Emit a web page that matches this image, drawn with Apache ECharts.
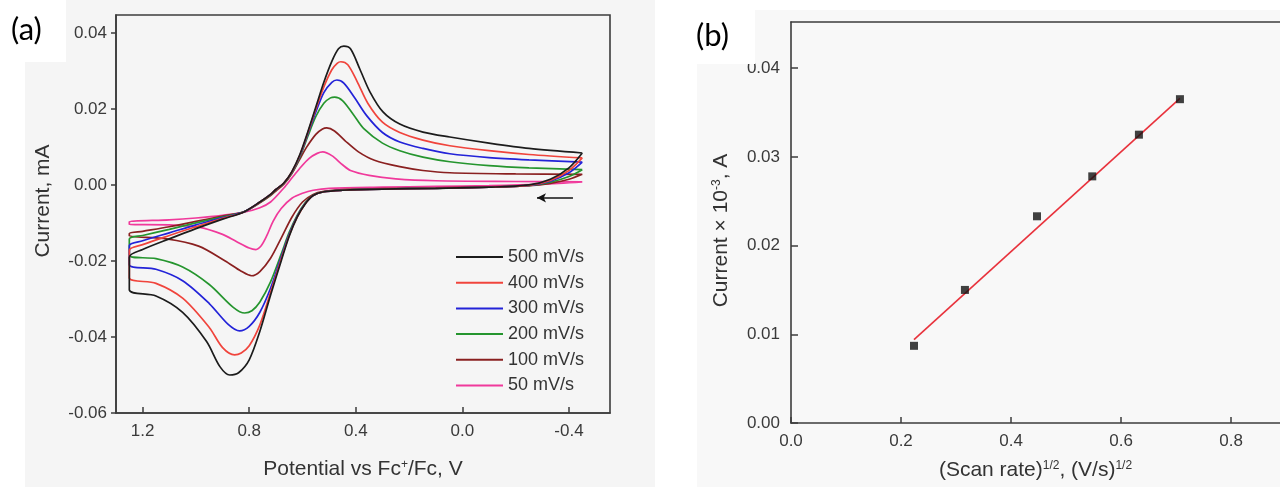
<!DOCTYPE html>
<html>
<head>
<meta charset="utf-8">
<script src="https://cdn.jsdelivr.net/npm/echarts@6/dist/echarts.min.js"></script>
<style>
html,body{margin:0;padding:0;background:#ffffff;}
#chart{width:1280px;height:487px;}
</style>
</head>
<body>
<div id="chart"></div>
<script>
// ---------- Panel (a): cyclic voltammograms, [potential V, current mA] ----------
const legendNames = ['500 mV/s','400 mV/s','300 mV/s','200 mV/s','100 mV/s','50 mV/s'];

const cv500 = [[-0.45,0.0084],[-0.40,0.0045],[-0.33,0.0015],[-0.25,0.0000],[-0.1,-0.0006],[0.1,-0.0009],[0.3,-0.0011],[0.45,-0.0014],[0.52,-0.0018],[0.56,-0.0028],[0.59,-0.0050],[0.62,-0.0085],[0.65,-0.0135],[0.68,-0.0200],[0.72,-0.0290],[0.76,-0.0385],[0.80,-0.0460],[0.84,-0.0494],[0.873,-0.0500],[0.91,-0.0478],[0.96,-0.0412],[1.05,-0.0335],[1.15,-0.0292],[1.25,-0.0276],
  [1.25,-0.0190],[1.2,-0.0170],[1.1,-0.0142],[1.0,-0.0115],[0.9,-0.0090],[0.82,-0.0071],[0.76,-0.0045],[0.72,-0.0025],[0.70,-0.0012],[0.67,0.0005],[0.64,0.0035],[0.61,0.0080],[0.58,0.0140],[0.55,0.0205],[0.52,0.0270],[0.49,0.0325],[0.465,0.0358],[0.445,0.0365],[0.42,0.0358],[0.385,0.0305],[0.347,0.0245],[0.298,0.0192],[0.235,0.0160],[0.148,0.0139],[0.047,0.0126],[-0.1,0.0110],[-0.25,0.0096],[-0.45,0.0084]];

const cv400 = [[-0.45,0.0071],[-0.40,0.0038],[-0.33,0.0012],[-0.25,-0.0001],[-0.1,-0.0006],[0.1,-0.0009],[0.3,-0.0011],[0.45,-0.0014],[0.52,-0.0018],[0.56,-0.0028],[0.59,-0.0050],[0.62,-0.0085],[0.65,-0.0133],[0.68,-0.0195],[0.72,-0.0283],[0.76,-0.0368],[0.80,-0.0423],[0.83,-0.0442],[0.855,-0.0447],[0.9,-0.0428],[0.95,-0.0375],[1.05,-0.0298],[1.15,-0.0259],[1.25,-0.0244],
  [1.25,-0.0172],[1.2,-0.0157],[1.1,-0.0133],[1.0,-0.0110],[0.9,-0.0088],[0.82,-0.0071],[0.76,-0.0045],[0.72,-0.0025],[0.70,-0.0012],[0.67,0.0005],[0.64,0.0034],[0.61,0.0078],[0.58,0.0137],[0.55,0.0200],[0.52,0.0258],[0.49,0.0303],[0.47,0.0320],[0.456,0.0324],[0.43,0.0316],[0.395,0.0272],[0.355,0.0215],[0.30,0.0165],[0.235,0.0138],[0.148,0.0118],[0.047,0.0103],[-0.1,0.0090],[-0.25,0.0080],[-0.45,0.0071]];

const cv300 = [[-0.45,0.0060],[-0.40,0.0032],[-0.33,0.0010],[-0.25,-0.0001],[-0.1,-0.0006],[0.1,-0.0009],[0.3,-0.0011],[0.45,-0.0014],[0.52,-0.0018],[0.56,-0.0028],[0.59,-0.0049],[0.62,-0.0083],[0.65,-0.0130],[0.68,-0.0190],[0.72,-0.0272],[0.76,-0.0335],[0.80,-0.0372],[0.836,-0.0384],[0.88,-0.0366],[0.95,-0.0312],[1.05,-0.0252],[1.15,-0.0222],[1.25,-0.0210],
  [1.25,-0.0160],[1.2,-0.0147],[1.1,-0.0126],[1.0,-0.0105],[0.9,-0.0086],[0.82,-0.0071],[0.76,-0.0045],[0.72,-0.0025],[0.70,-0.0012],[0.67,0.0005],[0.64,0.0033],[0.61,0.0076],[0.58,0.0134],[0.55,0.0192],[0.52,0.0243],[0.49,0.0270],[0.471,0.0276],[0.445,0.0268],[0.405,0.0230],[0.36,0.0183],[0.30,0.0138],[0.235,0.0113],[0.148,0.0096],[0.047,0.0082],[-0.1,0.0072],[-0.25,0.0066],[-0.45,0.0060]];

const cv200 = [[-0.45,0.0040],[-0.40,0.0022],[-0.33,0.0007],[-0.25,-0.0002],[-0.1,-0.0006],[0.1,-0.0009],[0.3,-0.0011],[0.45,-0.0014],[0.52,-0.0018],[0.56,-0.0027],[0.59,-0.0047],[0.62,-0.0080],[0.65,-0.0125],[0.68,-0.0182],[0.72,-0.0255],[0.76,-0.0308],[0.79,-0.0331],[0.817,-0.0337],[0.86,-0.0322],[0.95,-0.0262],[1.05,-0.0216],[1.15,-0.0194],[1.25,-0.0186],
  [1.25,-0.0142],[1.2,-0.0133],[1.1,-0.0117],[1.0,-0.0100],[0.9,-0.0084],[0.82,-0.0071],[0.76,-0.0046],[0.72,-0.0026],[0.70,-0.0013],[0.67,0.0004],[0.64,0.0031],[0.61,0.0073],[0.58,0.0128],[0.55,0.0180],[0.52,0.0215],[0.495,0.0229],[0.479,0.0231],[0.45,0.0222],[0.41,0.0186],[0.37,0.0148],[0.30,0.0110],[0.235,0.0090],[0.148,0.0073],[0.047,0.0061],[-0.1,0.0051],[-0.25,0.0045],[-0.45,0.0040]];

const cv100 = [[-0.45,0.0028],[-0.40,0.0015],[-0.33,0.0004],[-0.25,-0.0002],[-0.1,-0.0005],[0.1,-0.0008],[0.3,-0.0010],[0.45,-0.0012],[0.52,-0.0017],[0.56,-0.0025],[0.60,-0.0045],[0.64,-0.0085],[0.68,-0.0140],[0.72,-0.0193],[0.76,-0.0228],[0.791,-0.0239],[0.83,-0.0227],[0.89,-0.0200],[0.99,-0.0161],[1.11,-0.0142],[1.25,-0.0134],
  [1.25,-0.0128],[1.2,-0.0122],[1.1,-0.0110],[1.0,-0.0096],[0.9,-0.0082],[0.82,-0.0071],[0.76,-0.0047],[0.72,-0.0028],[0.70,-0.0016],[0.67,0.0002],[0.64,0.0030],[0.61,0.0068],[0.584,0.0100],[0.55,0.0133],[0.525,0.0147],[0.509,0.0150],[0.48,0.0142],[0.44,0.0116],[0.39,0.0087],[0.33,0.0065],[0.235,0.0048],[0.148,0.0038],[0.047,0.0032],[-0.2,0.0029],[-0.45,0.0028]];

const cv50 = [[-0.45,0.0008],[-0.3,0.0002],[-0.1,-0.0002],[0.1,-0.0004],[0.3,-0.0006],[0.5,-0.0009],[0.56,-0.0014],[0.6,-0.0022],[0.64,-0.0035],[0.68,-0.0062],[0.71,-0.0095],[0.735,-0.0135],[0.755,-0.0160],[0.775,-0.0170],[0.80,-0.0166],[0.85,-0.0148],[0.9,-0.0130],[0.99,-0.0111],[1.1,-0.0105],[1.25,-0.0104],
  [1.25,-0.0097],[1.1,-0.0092],[1.0,-0.0087],[0.9,-0.0080],[0.82,-0.0072],[0.76,-0.0060],[0.72,-0.0045],[0.67,-0.0008],[0.64,0.0018],[0.61,0.0044],[0.575,0.0070],[0.545,0.0083],[0.524,0.0087],[0.49,0.0077],[0.45,0.0053],[0.42,0.0038],[0.35,0.0025],[0.25,0.0016],[0.1,0.0011],[-0.2,0.0009],[-0.45,0.0008]];

const cvCurves = [cv500, cv400, cv300, cv200, cv100, cv50];
const potentialTicks = [1.2, 0.8, 0.4, 0.0, -0.4];
const currentTicksA = [-0.06, -0.04, -0.02, 0.00, 0.02, 0.04];

// ---------- Panel (b): peak current vs sqrt(scan rate) ----------
const sqrtScanRate = [0.2236, 0.3162, 0.4472, 0.5477, 0.6325, 0.7071];
const peakCurrent  = [0.0087, 0.0150, 0.0233, 0.0278, 0.0325, 0.0365];
const fitX = [0.2236, 0.7071];
const fitY = [0.0094, 0.0366];
const rateTicks = [0.0, 0.2, 0.4, 0.6, 0.8];
const currentTicksB = [0.00, 0.01, 0.02, 0.03, 0.04];

// ---------- styling ----------
const cvColors = ['#1c1c1c', '#f0443c', '#2323d8', '#25952e', '#8a2020', '#f0399b'];
const FONT = 'Liberation Sans, Arial, sans-serif';
const tickColor = '#3a3a3a';
const axisColor = '#3c3c3c';

const chart = echarts.init(document.getElementById('chart'), null, {renderer: 'canvas'});

const series = cvCurves.map((c, i) => ({
  name: legendNames[i],
  type: 'line',
  xAxisIndex: 0, yAxisIndex: 0,
  data: c,
  symbol: 'none',
  smooth: 0.3,
  lineStyle: {color: cvColors[i], width: 1.7},
  itemStyle: {color: cvColors[i]},
  z: 10 - i,
  silent: true
}));

// scan-direction arrow
series[0].markLine = {
  silent: true,
  symbol: ['none', 'arrow'],
  symbolSize: [7, 9],
  label: {show: false},
  lineStyle: {color: '#111', width: 1.5, type: 'solid'},
  data: [[{coord: [-0.415, -0.0034]}, {coord: [-0.28, -0.0034]}]]
};

series.push({
  type: 'line',
  xAxisIndex: 1, yAxisIndex: 1,
  data: fitX.map((x, i) => [x, fitY[i]]),
  symbol: 'none',
  lineStyle: {color: '#e8323c', width: 1.6},
  silent: true, z: 5
});
series.push({
  type: 'scatter',
  xAxisIndex: 1, yAxisIndex: 1,
  data: sqrtScanRate.map((x, i) => [x, peakCurrent[i]]),
  symbol: 'rect',
  symbolSize: 8,
  itemStyle: {color: '#111'},
  silent: true, z: 6
});

const labelStyle = {color: tickColor, fontFamily: FONT, fontSize: 17};
const supStyle = {fontSize: 12, fontFamily: FONT, color: '#333', verticalAlign: 'top', lineHeight: 10};

const option = {
  backgroundColor: '#ffffff',
  animation: false,
  graphic: [
    {type: 'rect', shape: {x: 25, y: 0, width: 630, height: 487}, style: {fill: '#f5f5f5'}, z: -10, silent: true},
    {type: 'rect', shape: {x: 697, y: 10, width: 583, height: 477}, style: {fill: '#f8f8f8'}, z: -10, silent: true},
    {type: 'rect', shape: {x: 0, y: 0, width: 66, height: 62}, style: {fill: '#ffffff'}, z: 100, silent: true},
    {type: 'rect', shape: {x: 680, y: 0, width: 75, height: 64}, style: {fill: '#ffffff'}, z: 100, silent: true},
    {type: 'text', left: 11, top: 14, z: 101, silent: true,
      style: {text: '(a)', fill: '#000', font: '31px Lato, "Noto Sans", sans-serif'}},
    {type: 'text', left: 696, top: 20, z: 101, silent: true,
      style: {text: '(b)', fill: '#000', font: '31px Lato, "Noto Sans", sans-serif'}}
  ],
  legend: {
    data: legendNames,
    orient: 'vertical',
    left: 451, top: 243,
    itemWidth: 47, itemHeight: 18, itemGap: 7.7,
    icon: 'path://M0,8 L47,8 L47,10 L0,10 Z',
    textStyle: {color: '#333', fontFamily: FONT, fontSize: 18, lineHeight: 18},
    selectedMode: false
  },
  grid: [
    {left: 116, top: 15, width: 494, height: 398, show: true, borderColor: axisColor, borderWidth: 1.6, backgroundColor: 'transparent'},
    {left: 791, top: 22, width: 489, height: 401, show: false}
  ],
  xAxis: [
    {
      type: 'value', gridIndex: 0, inverse: true,
      min: -0.554, max: 1.30,
      name: 'Potential vs Fc{sup|+}/Fc, V',
      nameLocation: 'middle', nameGap: 46,
      nameTextStyle: {color: '#333', fontFamily: FONT, fontSize: 21, rich: {sup: supStyle}},
      axisLine: {show: true, onZero: false, lineStyle: {color: axisColor, width: 1.6}},
      axisTick: {show: true, inside: true, length: 6, customValues: potentialTicks, lineStyle: {color: axisColor, width: 1.5}},
      axisLabel: Object.assign({margin: 10, customValues: potentialTicks, formatter: v => v.toFixed(1)}, labelStyle),
      splitLine: {show: false}
    },
    {
      type: 'value', gridIndex: 1,
      min: 0, max: 0.889,
      name: '(Scan rate){sup|1/2}, (V/s){sup|1/2}',
      nameLocation: 'middle', nameGap: 37,
      nameTextStyle: {color: '#333', fontFamily: FONT, fontSize: 21, rich: {sup: supStyle}},
      axisLine: {show: true, onZero: false, lineStyle: {color: axisColor, width: 1.6}},
      axisTick: {show: true, inside: true, length: 6, customValues: rateTicks, lineStyle: {color: axisColor, width: 1.5}},
      axisLabel: Object.assign({margin: 10, customValues: rateTicks, formatter: v => v.toFixed(1)}, labelStyle),
      splitLine: {show: false}
    },
    {
      // top frame line of panel (b)
      type: 'value', gridIndex: 1, position: 'top',
      min: 0, max: 0.889,
      axisLine: {show: true, onZero: false, lineStyle: {color: axisColor, width: 1.6}},
      axisTick: {show: false}, axisLabel: {show: false}, splitLine: {show: false}
    }
  ],
  yAxis: [
    {
      type: 'value', gridIndex: 0,
      min: -0.06, max: 0.0447,
      name: 'Current, mA',
      nameLocation: 'middle', nameGap: 62,
      nameTextStyle: {color: '#333', fontFamily: FONT, fontSize: 21, padding: [0, 0, 0, 26]},
      axisLine: {show: true, onZero: false, lineStyle: {color: axisColor, width: 1.6}},
      axisTick: {show: true, inside: false, length: 5, customValues: currentTicksA, lineStyle: {color: axisColor, width: 1.5}},
      axisLabel: Object.assign({margin: 9, customValues: currentTicksA, formatter: v => v.toFixed(2)}, labelStyle),
      splitLine: {show: false}
    },
    {
      type: 'value', gridIndex: 1,
      min: 0, max: 0.0452,
      name: 'Current × 10{sup|-3}, A',
      nameLocation: 'middle', nameGap: 59,
      nameTextStyle: {color: '#333', fontFamily: FONT, fontSize: 21, padding: [0, 16, 0, 0], rich: {sup: supStyle}},
      axisLine: {show: true, onZero: false, lineStyle: {color: axisColor, width: 1.6}},
      axisTick: {show: true, inside: true, length: 7, customValues: currentTicksB, lineStyle: {color: axisColor, width: 1.5}},
      axisLabel: Object.assign({margin: 11, customValues: currentTicksB, formatter: v => v.toFixed(2)}, labelStyle),
      splitLine: {show: false}
    }
  ],
  series: series
};

chart.setOption(option);
</script>
</body>
</html>
